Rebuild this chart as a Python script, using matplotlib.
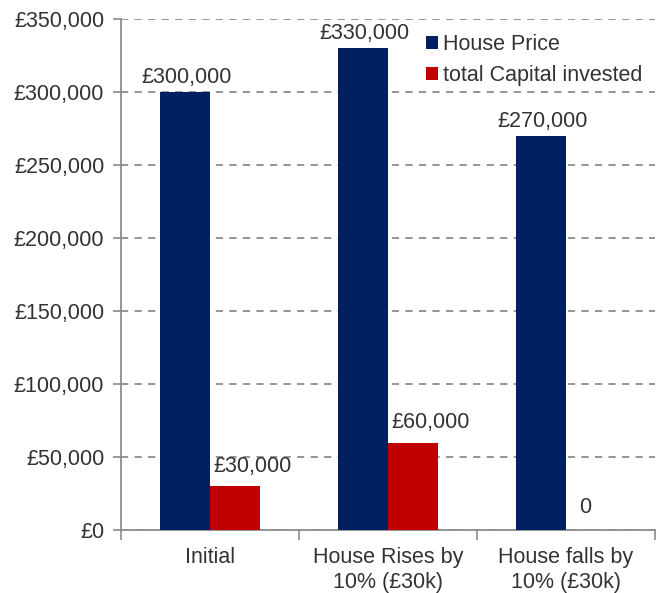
import matplotlib
matplotlib.use("Agg")
import matplotlib.pyplot as plt
import numpy as np
from matplotlib.ticker import FuncFormatter

categories = ["Initial", "House Rises by\n10% (£30k)", "House falls by\n10% (£30k)"]
house_price = [300000, 330000, 270000]
capital = [30000, 60000, 0]
series_names = ["House Price", "total Capital invested"]

plt.rcParams['font.family'] = ['Liberation Sans', 'DejaVu Sans']
txt = '#333333'
fs = 15.5
fig = plt.figure(figsize=(6.57, 5.93), dpi=100)
ax = fig.add_axes([0.184, 0.106, 0.813, 0.862])

x = np.arange(len(categories))
w = 0.28
b1 = ax.bar(x - w/2, house_price, w, color='#002060', label=series_names[0], zorder=3)
b2 = ax.bar(x + w/2, capital, w, color='#C00000', label=series_names[1], zorder=3)

def lab(v):
    return "0" if v == 0 else "£{:,.0f}".format(v)

for r, v in zip(b1, house_price):
    ax.annotate(lab(v), (r.get_x() + r.get_width()/2, v), xytext=(1, 3),
                textcoords='offset points', ha='center', va='bottom',
                fontsize=fs, color=txt, zorder=4)
red_off = [(13, 7), (13, 7), (-4, 9)]
for r, v, off in zip(b2, capital, red_off):
    ax.annotate(lab(v), (r.get_x() + r.get_width()/2, v), xytext=off,
                textcoords='offset points', ha='center', va='bottom',
                fontsize=fs, color=txt, zorder=4)

ax.set_ylim(0, 350000)
ax.set_xlim(-0.5, 2.5)
ax.set_yticks(np.arange(0, 350001, 50000))
ax.yaxis.set_major_formatter(FuncFormatter(lambda v, p: "£{:,.0f}".format(v)))
ax.set_xticks(x)
ax.set_xticklabels(categories, linespacing=1.25)
ax.set_xticks([-0.5, 0.5, 1.5, 2.5], minor=True)
ax.tick_params(axis='x', which='major', length=0, pad=12, labelsize=fs, labelcolor=txt)
ax.tick_params(axis='x', which='minor', length=7, color='#8c8c8c', width=1.2)
ax.tick_params(axis='y', length=6, color='#8c8c8c', width=1.2, labelsize=fs, labelcolor=txt, pad=6)
ax.grid(axis='y', color='#8c8c8c', linestyle=(0, (4, 3.5)), linewidth=1.3, zorder=0)
for s in ['top', 'right']:
    ax.spines[s].set_visible(False)
for s in ['left', 'bottom']:
    ax.spines[s].set_color('#8c8c8c')
    ax.spines[s].set_linewidth(1.3)

leg = ax.legend(loc='upper left', bbox_to_anchor=(0.559, 0.983), frameon=False, fontsize=fs,
                handlelength=0.55, handleheight=0.55, handletextpad=0.25, labelspacing=0.45,
                borderpad=0.3, borderaxespad=0)
for t in leg.get_texts():
    t.set_color(txt)

fig.savefig("out.png", dpi=100)
